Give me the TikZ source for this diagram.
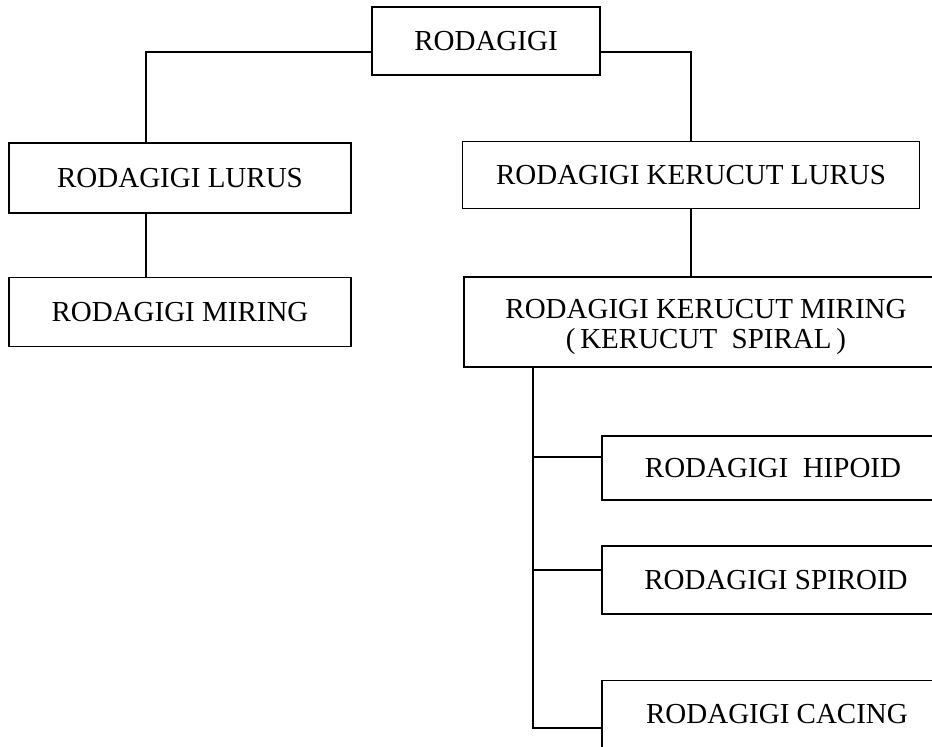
\documentclass[tikz,border=0pt]{standalone}
\usepackage{fontspec}
\setmainfont{Liberation Serif}
\begin{document}
\begin{tikzpicture}[
        x=1pt, y=-1pt,
        every node/.style={draw, line width=1.6pt, inner sep=0pt, align=center,
            font=\fontsize{29}{30}\selectfont},
        link/.style={-, line width=1.6pt},
    ]
    \useasboundingbox (0,0) rectangle (932,747);
    \clip (0,0) rectangle (932,747);

    \node[minimum width=228pt, minimum height=68pt](root) at (486,41) {RODAGIGI};
    \node[minimum width=342pt, minimum height=70pt](lurus) at (180,178) {RODAGIGI LURUS};
    \node[minimum width=342pt, minimum height=69pt](miring) at (180,312) {RODAGIGI MIRING};
    \node[minimum width=457pt, minimum height=67pt](klurus) at (691,175) {RODAGIGI KERUCUT LURUS};
    \node[minimum width=484pt, minimum height=90pt](kmiring) at (706,322)
        {\rule{0pt}{30pt}RODAGIGI KERUCUT MIRING\\(\,KERUCUT\ \ SPIRAL\,)};
    \node[minimum width=342pt, minimum height=64pt](hipoid) at (773,468) {RODAGIGI\ \ HIPOID};
    \node[minimum width=348pt, minimum height=68pt](spiroid) at (776,580) {RODAGIGI SPIROID};
    \node[minimum width=350pt, minimum height=67pt](cacing) at (777,714) {RODAGIGI CACING};

    \coordinate (spine) at ([xshift=-173pt]kmiring.south);
    \coordinate (hipoid-in) at ([yshift=11pt]hipoid.west);
    \coordinate (spiroid-in) at ([yshift=10pt]spiroid.west);
    \coordinate (cacing-in) at ([yshift=-14pt]cacing.west);

    \draw[link] ([yshift=-11pt]root.west) -| ([xshift=-34pt]lurus.north);
    \draw[link] ([yshift=-11pt]root.east) -| (klurus.north);
    \draw[link] ([xshift=-34pt]lurus.south) -- ([xshift=-34pt]miring.north);
    \draw[link] (klurus.south) -- (klurus.south |- kmiring.north);
    \draw[link] (spine) |- (cacing-in);
    \draw[link] (spine |- hipoid-in) -- (hipoid-in);
    \draw[link] (spine |- spiroid-in) -- (spiroid-in);
\end{tikzpicture}
\end{document}
